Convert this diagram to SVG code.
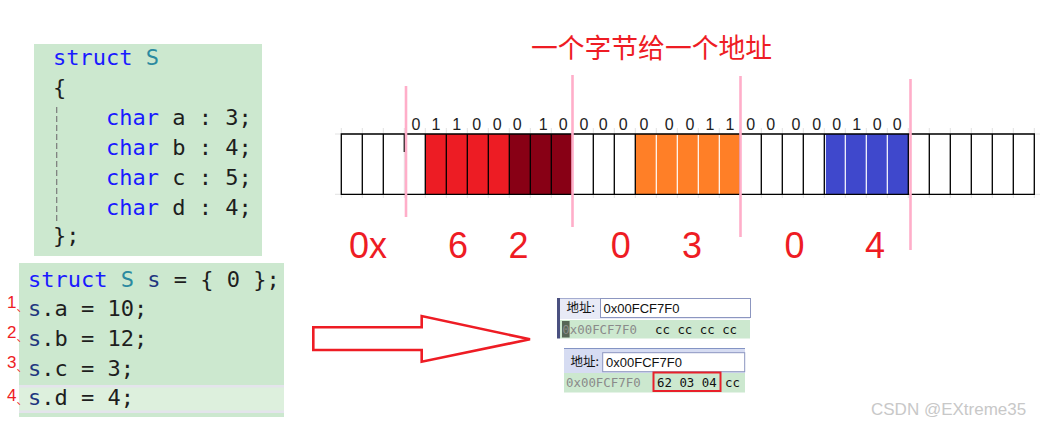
<svg xmlns="http://www.w3.org/2000/svg" width="1050" height="426" viewBox="0 0 1050 426">
<style>
.code{font-family:"DejaVu Sans Mono","Liberation Mono",monospace;font-size:22px;fill:#1e1e1e}
.kw{fill:#1a1aff}
.ty{fill:#2b8aa0}
.var{fill:#1f377f}
.num{font-family:"Liberation Sans",sans-serif;font-size:17px;fill:#ee1c24}
.dun{font-family:"Noto Sans CJK SC",sans-serif;font-size:11px;fill:#ee1c24}
.bit{font-family:"Liberation Sans",sans-serif;font-size:16px;fill:#222;text-anchor:middle}
.hex{font-family:"Liberation Sans",sans-serif;font-size:36px;fill:#ee1c24;text-anchor:middle}
.pink{stroke:#ffaec9;stroke-width:2.6;fill:none}
.cell{stroke:#000;stroke-width:1.3;fill:none}
.lbl{font-family:"Noto Sans CJK SC","Liberation Sans",sans-serif;font-size:12.5px;fill:#111}
.inp{font-family:"Liberation Sans","Noto Sans",sans-serif;font-size:13px;fill:#111}
.mono{font-family:"DejaVu Sans Mono","Liberation Mono",monospace;font-size:12.4px}
</style>
<rect width="1050" height="426" fill="#ffffff"/>

<g id="struct-def">
<rect x="34" y="44" width="228" height="212" fill="#cce8cf"/>
<line x1="56.7" y1="107" x2="56.7" y2="223" stroke="#7a7a7a" stroke-width="1.2" stroke-dasharray="6 3"/>
<text class="code" x="53" y="65"><tspan class="kw">struct</tspan> <tspan class="ty">S</tspan></text>
<text class="code" x="53" y="95">{</text>
<text class="code" x="106" y="125"><tspan class="kw">char</tspan> a : 3;</text>
<text class="code" x="106" y="155"><tspan class="kw">char</tspan> b : 4;</text>
<text class="code" x="106" y="185"><tspan class="kw">char</tspan> c : 5;</text>
<text class="code" x="106" y="215"><tspan class="kw">char</tspan> d : 4;</text>
<text class="code" x="53" y="243">};</text>
</g>

<g id="struct-init">
<rect x="19" y="263" width="265" height="154" fill="#cce8cf"/>
<rect x="19" y="385" width="265" height="28" fill="#ddf0dd"/>
<rect x="19" y="385" width="265" height="2.5" fill="#e4e4ec"/>
<rect x="19" y="410.5" width="265" height="2.5" fill="#e4e4ec"/>
<text class="code" x="28" y="287"><tspan class="kw">struct</tspan> <tspan class="ty">S</tspan> <tspan class="var">s</tspan> = { 0 };</text>
<text class="code" x="28" y="316"><tspan class="var">s</tspan>.a = 10;</text>
<text class="code" x="28" y="346"><tspan class="var">s</tspan>.b = 12;</text>
<text class="code" x="28" y="376"><tspan class="var">s</tspan>.c = 3;</text>
<text class="code" x="28" y="405"><tspan class="var">s</tspan>.d = 4;</text>
<text class="num" x="7" y="308">1</text>
<text class="num" x="7" y="338">2</text>
<text class="num" x="7" y="368">3</text>
<text class="num" x="7" y="401">4</text>
<text class="dun" x="16.5" y="311">、</text>
<text class="dun" x="16.5" y="341">、</text>
<text class="dun" x="16.5" y="371">、</text>
<text class="dun" x="16.5" y="404">、</text>
</g>

<g id="title">
<text x="531" y="58" font-family="Noto Sans CJK SC,Liberation Sans,sans-serif" font-size="27" fill="#ee1c24" textLength="241" lengthAdjust="spacingAndGlyphs">一个字节给一个地址</text>
</g>

<g id="bit-grid">
<path d="M335 134H1040M335 194.3H1040" stroke="#e2e2e2" stroke-width="1"/>
<g stroke="#e2e2e2" stroke-width="1">
<path d="M341.3 128V198M362.3 128V198M383.3 128V198M404.3 128V198M425.3 128V198M446.3 128V198M467.3 128V198M488.3 128V198M509.3 128V198M530.3 128V198M551.3 128V198M572.3 128V198M593.3 128V198M614.3 128V198M635.3 128V198M656.3 128V198M677.3 128V198M698.3 128V198M719.3 128V198M740.3 128V198M761.3 128V198M782.3 128V198M803.3 128V198M824.3 128V198M845.3 128V198M866.3 128V198M887.3 128V198M908.3 128V198M929.3 128V198M950.3 128V198M971.3 128V198M992.3 128V198M1013.3 128V198M1034.3 128V198"/>
</g>
<rect x="425.3" y="134" width="84" height="60.3" fill="#ed1c24"/>
<rect x="509.3" y="134" width="63" height="60.3" fill="#880015"/>
<rect x="635.3" y="134" width="105" height="60.3" fill="#ff7f27"/>
<rect x="824.3" y="134" width="84" height="60.3" fill="#3f48cc"/>
<path d="M656.3 135V194M677.3 135V194M698.3 135V194M719.3 135V194M845.3 135V194M866.3 135V194M887.3 135V194M825.3 135V194" stroke="#ffffff" stroke-width="1.2"/>
<path class="cell" d="M341.3 134H1034.3V194.3H341.3Z"/>
<path class="cell" d="M362.3 134V194.3M383.3 134V194.3M404.3 134V152M425.3 134V194.3M446.3 134V194.3M467.3 134V194.3M488.3 134V194.3M509.3 134V194.3M530.3 134V194.3M551.3 134V194.3M572.3 134V194.3M593.3 134V194.3M614.3 134V194.3M635.3 134V194.3M740.3 134V194.3M761.3 134V194.3M782.3 134V194.3M803.3 134V194.3M824.3 134V194.3M908.3 134V194.3M929.3 134V194.3M950.3 134V194.3M971.3 134V194.3M992.3 134V194.3M1013.3 134V194.3"/>
<text class="bit" y="130"><tspan x="416">0</tspan><tspan x="436">1</tspan><tspan x="456.7">1</tspan><tspan x="476.7">0</tspan><tspan x="497.3">0</tspan><tspan x="517.3">0</tspan><tspan x="543.3">1</tspan><tspan x="563.3">0</tspan><tspan x="584">0</tspan><tspan x="603.3">0</tspan><tspan x="623.3">0</tspan><tspan x="644">0</tspan><tspan x="669.3">0</tspan><tspan x="690">0</tspan><tspan x="710">1</tspan><tspan x="730">1</tspan><tspan x="750.7">0</tspan><tspan x="770.7">0</tspan><tspan x="796">0</tspan><tspan x="816.7">0</tspan><tspan x="836.7">0</tspan><tspan x="856.7">1</tspan><tspan x="877.3">0</tspan><tspan x="897.3">0</tspan></text>
</g>

<g id="byte-dividers">
<line class="pink" x1="406" y1="86" x2="406" y2="217"/>
<line class="pink" x1="572.5" y1="75" x2="572.5" y2="227"/>
<line class="pink" x1="740.5" y1="76" x2="740.5" y2="237"/>
<line class="pink" x1="910.5" y1="79" x2="910.5" y2="250"/>
</g>

<g id="hex-values">
<text class="hex" x="349" y="258" style="text-anchor:start">0x</text>
<text class="hex" x="458" y="258">6</text>
<text class="hex" x="518.6" y="258">2</text>
<text class="hex" x="620.7" y="258">0</text>
<text class="hex" x="692" y="258">3</text>
<text class="hex" x="794.6" y="258">0</text>
<text class="hex" x="875" y="258">4</text>
</g>

<g id="connectors">
<polygon points="313.3,327.3 421.7,327.3 421.7,316 530,339.3 421.7,361.7 421.7,350 313.3,350" fill="none" stroke="#ee1c24" stroke-width="2.6" stroke-linejoin="miter"/>
</g>

<g id="memory-before">
<rect x="560" y="298" width="190" height="21" fill="#e8eaf6"/>
<line x1="560" y1="298.5" x2="750" y2="298.5" stroke="#a4acd0" stroke-width="1"/>
<rect x="557" y="298" width="3" height="40.5" fill="#4a5080"/>
<text class="lbl" x="566.5" y="312">地址:</text>
<rect x="600.5" y="298.5" width="150" height="19" fill="#ffffff" stroke="#8c96c0" stroke-width="1"/>
<text class="inp" x="603.5" y="312.5">0x00FCF7F0</text>
<rect x="560" y="320" width="190" height="18.5" fill="#cce8cf"/>
<rect x="562" y="321" width="7.6" height="16.5" fill="#566656"/>
<text class="mono" x="562.3" y="333.5" fill="#8a8a8a">0x00FCF7F0</text>
<text class="mono" x="655" y="333.5" fill="#111">cc cc cc cc</text>
</g>

<g id="memory-after">
<rect x="564" y="348" width="181" height="25" fill="#d6dcf2"/>
<line x1="564" y1="348.5" x2="745" y2="348.5" stroke="#8494c4" stroke-width="1.2"/>
<text class="lbl" x="570.5" y="366">地址:</text>
<rect x="602.7" y="352.7" width="142" height="19" fill="#ffffff" stroke="#8c96c0" stroke-width="1"/>
<text class="inp" x="606" y="367">0x00FCF7F0</text>
<rect x="564" y="373" width="181" height="19.5" fill="#cce8cf"/>
<text class="mono" x="566" y="387" fill="#8a8a8a">0x00FCF7F0</text>
<text class="mono" x="657" y="387" fill="#111">62 03 04</text>
<text class="mono" x="725" y="387" fill="#111">cc</text>
<rect x="653.5" y="372.5" width="67" height="18.5" fill="none" stroke="#e8202a" stroke-width="2"/>
</g>

<text x="871" y="415" font-family="Liberation Sans,sans-serif" font-size="17" fill="#c8c8c8">CSDN @EXtreme35</text>
</svg>
